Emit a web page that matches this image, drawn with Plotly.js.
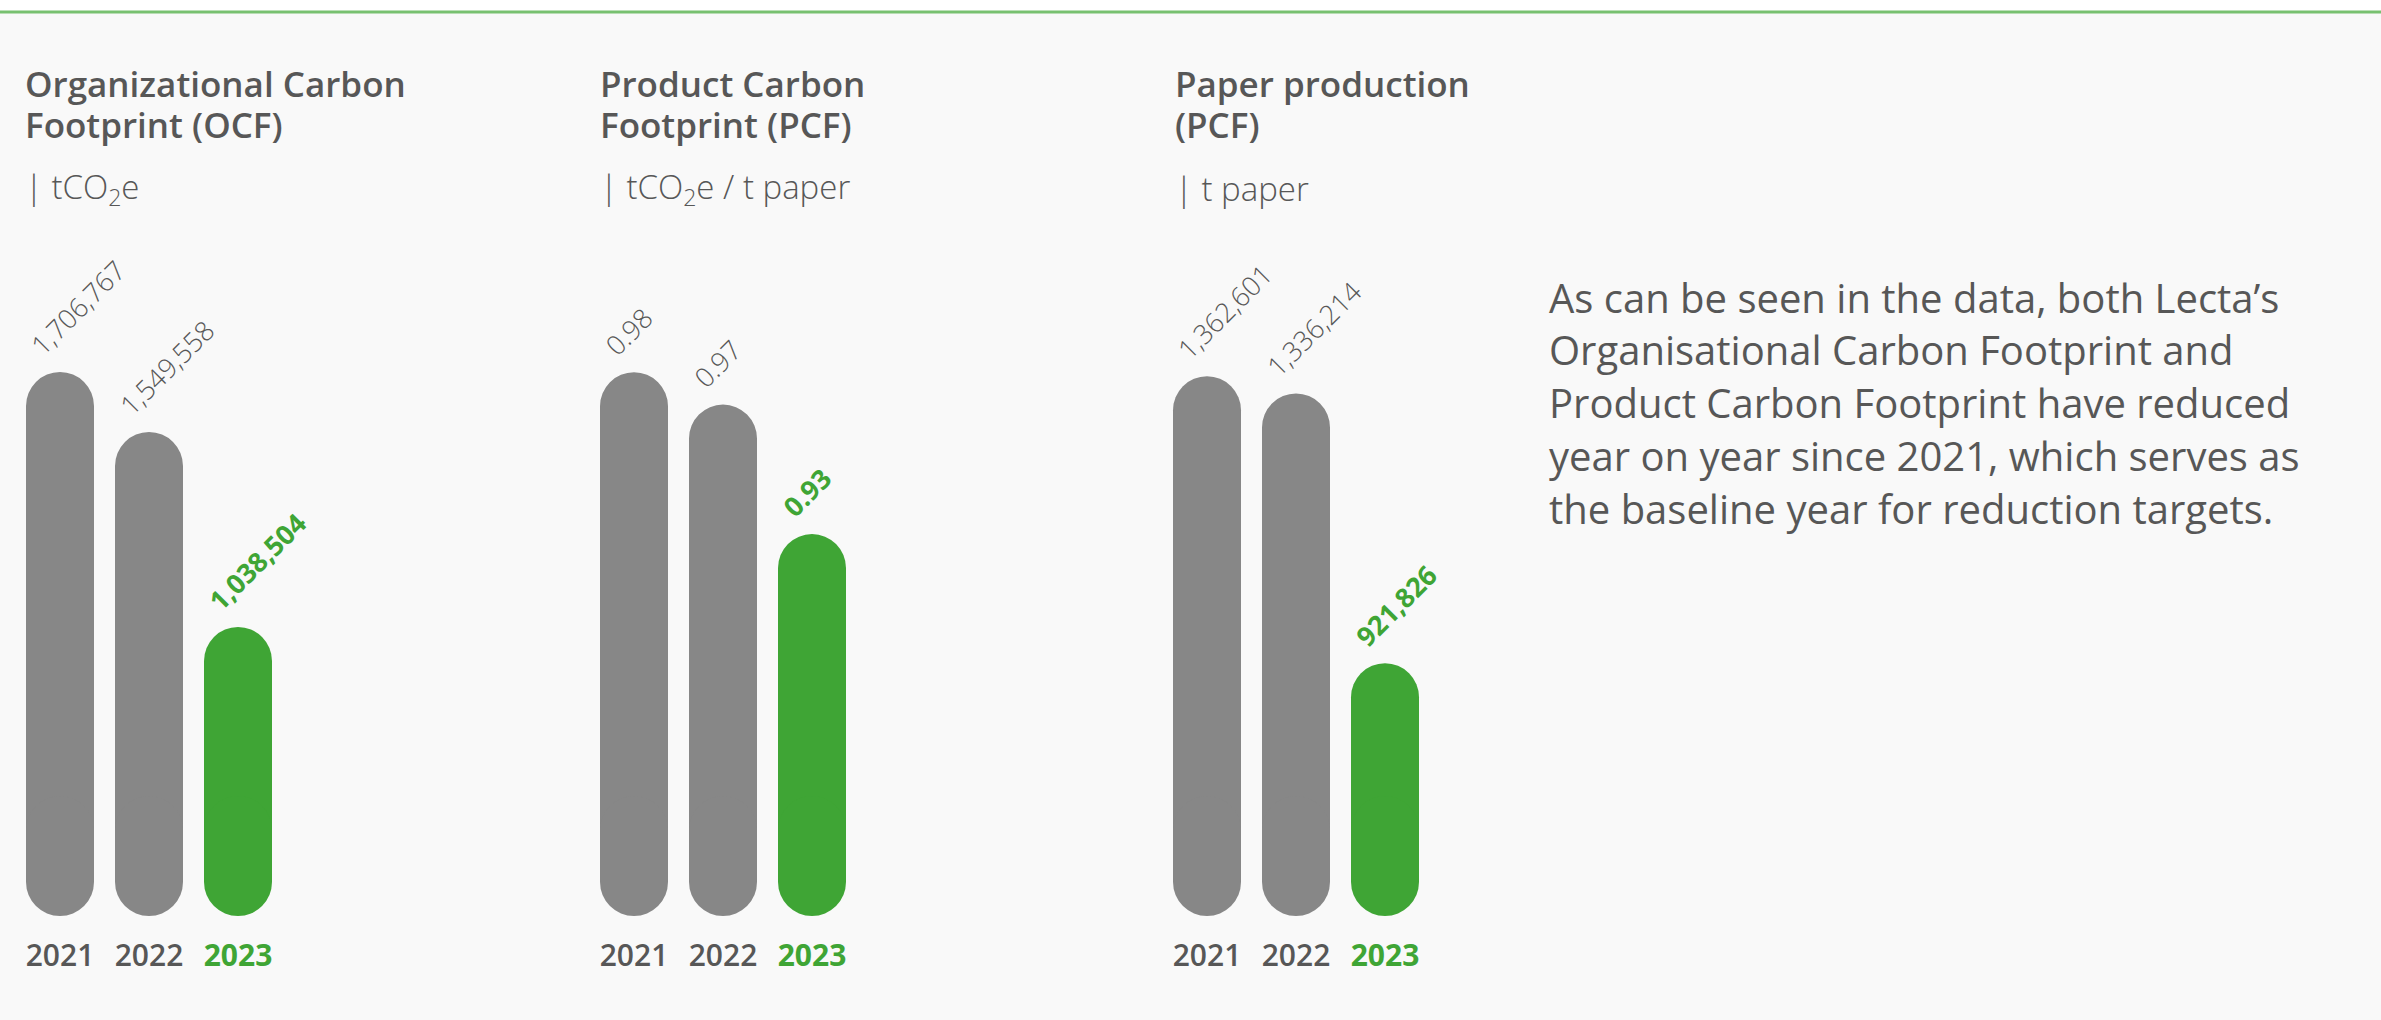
<!DOCTYPE html>
<html>
<head>
<meta charset="utf-8">
<script src="https://cdn.plot.ly/plotly-3.0.1.min.js"></script>
<style>
  html, body { margin: 0; padding: 0; background: #f9f9f9; }
  #chart { width: 2381px; height: 1020px; }
</style>
</head>
<body>
<div id="chart"></div>
<script>
// ---------------- data ----------------
const years = ['2021', '2022', '2023'];
const ocfValues = [1706767, 1549558, 1038504];     // tCO2e
const pcfValues = [0.98, 0.97, 0.93];              // tCO2e / t paper
const paperValues = [1362601, 1336214, 921826];    // t paper
const titleLines = [
  ['Organizational Carbon', 'Footprint (OCF)'],
  ['Product Carbon', 'Footprint (PCF)'],
  ['Paper production', '(PCF)']
];
const unitLabels = ['tCO<sub>2</sub>e', 'tCO<sub>2</sub>e / t paper', 't paper'];
const noteLines = [
  'As can be seen in the data, both Lecta\u2019s',
  'Organisational Carbon Footprint and',
  'Product Carbon Footprint have reduced',
  'year on year since 2021, which serves as',
  'the baseline year for reduction targets.'
];

// ---------------- style ----------------
const W = 2381, H = 1020;
const GREY = '#878787', GREEN = '#3fa535', TEXT = '#575757';
const FONT = 'Open Sans, Noto Sans, sans-serif';
const px = v => v / W;
const py = v => 1 - v / H;
const PLOT_TOP = 372, PLOT_BOTTOM = 916, PLOT_H = PLOT_BOTTOM - PLOT_TOP;

const panels = [
  { values: ocfValues, range: [281167, 1706767], fmt: v => v.toLocaleString('en-US'), left: 15.5, textLeft: 24 },
  { values: pcfValues, range: [0.81196, 0.98008], fmt: v => v.toFixed(2), left: 589.5, textLeft: 599 },
  { values: paperValues, range: [533665, 1369174], fmt: v => v.toLocaleString('en-US'), left: 1162.5, textLeft: 1174 }
];
const pitch = 89;
const colors = years.map((y, i) => i === years.length - 1 ? GREEN : GREY);

const data = [];
const annotations = [];
const layout = {
  width: W, height: H,
  margin: { l: 0, r: 0, t: 0, b: 0 },
  paper_bgcolor: '#f9f9f9',
  plot_bgcolor: 'rgba(0,0,0,0)',
  showlegend: false,
  barmode: 'overlay',
  bargap: 0.236,
  font: { family: FONT, color: TEXT },
  shapes: [
    { type: 'rect', xref: 'paper', yref: 'paper', x0: 0, x1: 1, y0: py(11), y1: 1, fillcolor: '#ffffff', line: { width: 0 }, layer: 'below' },
    { type: 'line', xref: 'paper', yref: 'paper', x0: 0, x1: 1, y0: py(12), y1: py(12), line: { color: '#78c170', width: 3 } }
  ],
  annotations: annotations
};

panels.forEach((p, k) => {
  const sfx = k === 0 ? '' : String(k + 1);
  const xa = 'x' + sfx, ya = 'y' + sfx;
  const lo = p.range[0];
  const perPx = (p.range[1] - p.range[0]) / PLOT_H;
  const midA = lo + 40 * perPx;   // start of upper segment
  const midB = lo + 120 * perPx;  // end of lower segment (overlapping, hides the joint)
  // upper part (rounded top)
  data.push({
    type: 'bar', x: years, y: p.values.map(v => v - midA), base: midA,
    xaxis: xa, yaxis: ya, marker: { color: colors, cornerradius: '50%', line: { width: 0 } },
    hoverinfo: 'skip'
  });
  // lower part (rounded bottom)
  data.push({
    type: 'bar', x: years, y: p.values.map(() => lo - midB), base: midB,
    xaxis: xa, yaxis: ya, marker: { color: colors, cornerradius: '50%', line: { width: 0 } },
    hoverinfo: 'skip'
  });
  layout['xaxis' + sfx] = {
    domain: [px(p.left), px(p.left + 3 * pitch)], anchor: ya, type: 'category',
    range: [-0.5, 2.5], showgrid: false, zeroline: false, showline: false, ticks: '',
    tickmode: 'array', tickvals: years,
    ticktext: years.map((y, i) => i === years.length - 1 ? '<b><span style="color:' + GREEN + '">' + y + '</span></b>' : y),
    tickfont: { family: FONT, size: 30, color: TEXT, weight: 600, stretch: 'semi-condensed' },
    ticklabelstandoff: 19, fixedrange: true
  };
  layout['yaxis' + sfx] = {
    domain: [1 - PLOT_BOTTOM / H, 1 - PLOT_TOP / H], anchor: xa, range: p.range, visible: false, fixedrange: true
  };
  // value labels
  p.values.forEach((v, i) => {
    const last = i === p.values.length - 1;
    annotations.push({
      xref: xa, yref: ya, x: i, y: v, text: last ? '<b>' + p.fmt(v) + '</b>' : p.fmt(v),
      textangle: -45, xanchor: 'left', yanchor: 'bottom', xshift: -39, yshift: 8,
      showarrow: false, borderpad: 0,
      font: { family: FONT, size: 27, color: last ? GREEN : TEXT, weight: last ? 700 : 350, stretch: 'normal' }
    });
  });
  // titles
  titleLines[k].forEach((t, j) => {
    annotations.push({
      xref: 'paper', yref: 'paper', x: px(p.textLeft), y: py(97 + 41 * j - 0.38 * 35),
      xanchor: 'left', yanchor: 'middle', text: t, showarrow: false, borderpad: 0,
      font: { family: FONT, size: 35, color: TEXT, weight: 600, stretch: 'semi-condensed' }
    });
  });
  annotations.push({
    xref: 'paper', yref: 'paper', x: px(p.textLeft), y: py(200 - 0.36 * 33),
    xanchor: 'left', yanchor: 'middle', text: '| ' + unitLabels[k], showarrow: false, borderpad: 0,
    font: { family: FONT, size: 33, color: TEXT, weight: 350, stretch: 'normal' }
  });
});

noteLines.forEach((line, j) => {
  annotations.push({
    xref: 'paper', yref: 'paper', x: px(1548), y: py(311.5 + 52.8 * j - 0.36 * 40),
    xanchor: 'left', yanchor: 'middle', align: 'left', text: line, showarrow: false, borderpad: 0,
    font: { family: FONT, size: 40, color: TEXT, weight: 400, stretch: 'condensed' }
  });
});

Plotly.newPlot('chart', data, layout, { displayModeBar: false, staticPlot: true });
</script>
</body>
</html>
